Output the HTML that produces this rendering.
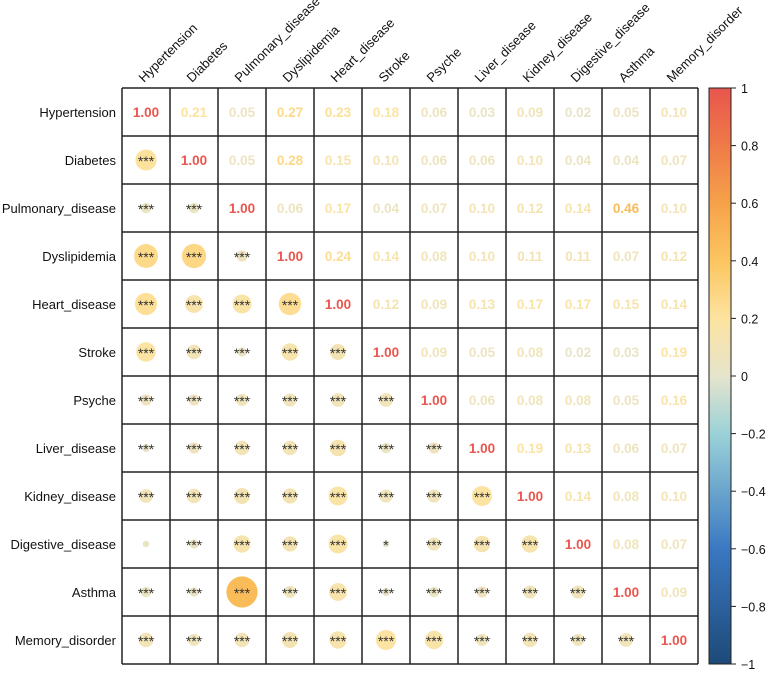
<!DOCTYPE html>
<html><head><meta charset="utf-8"><style>
body{margin:0;background:#fff;}
svg text{font-family:"Liberation Sans",Arial,sans-serif;}
</style></head><body>
<svg id="c" width="767" height="669" viewBox="0 0 767 669" xmlns="http://www.w3.org/2000/svg">
<defs><linearGradient id="cg" x1="0" y1="1" x2="0" y2="0">
<stop offset="0" stop-color="#1d4a78"/><stop offset="0.2" stop-color="#3a78c2"/><stop offset="0.4" stop-color="#9bd2d8"/><stop offset="0.5" stop-color="#e6e4cc"/><stop offset="0.6" stop-color="#fde3a0"/><stop offset="0.7" stop-color="#fcc560"/><stop offset="0.8" stop-color="#f6a24a"/><stop offset="0.9" stop-color="#ef7a48"/><stop offset="1" stop-color="#e8564e"/>
</linearGradient></defs>
</svg>
<script>
const labels=["Hypertension","Diabetes","Pulmonary_disease","Dyslipidemia","Heart_disease","Stroke","Psyche","Liver_disease","Kidney_disease","Digestive_disease","Asthma","Memory_disorder"];
const upper=[
[1,0.21,0.05,0.27,0.23,0.18,0.06,0.03,0.09,0.02,0.05,0.10],
[0,1,0.05,0.28,0.15,0.10,0.06,0.06,0.10,0.04,0.04,0.07],
[0,0,1,0.06,0.17,0.04,0.07,0.10,0.12,0.14,0.46,0.10],
[0,0,0,1,0.24,0.14,0.08,0.10,0.11,0.11,0.07,0.12],
[0,0,0,0,1,0.12,0.09,0.13,0.17,0.17,0.15,0.14],
[0,0,0,0,0,1,0.09,0.05,0.08,0.02,0.03,0.19],
[0,0,0,0,0,0,1,0.06,0.08,0.08,0.05,0.16],
[0,0,0,0,0,0,0,1,0.19,0.13,0.06,0.07],
[0,0,0,0,0,0,0,0,1,0.14,0.08,0.10],
[0,0,0,0,0,0,0,0,0,1,0.08,0.07],
[0,0,0,0,0,0,0,0,0,0,1,0.09],
[0,0,0,0,0,0,0,0,0,0,0,1]];
const sigOverride={"9-0":"","9-5":"*"};
const cbTicks=[1,0.8,0.6,0.4,0.2,0,-0.2,-0.4,-0.6,-0.8,-1];
const svg=document.getElementById('c');const NS="http://www.w3.org/2000/svg";
const X0=122,Y0=88,CW=48,CH=48;
const stops=[[-1,[29,74,120]],[-0.6,[58,120,194]],[-0.2,[155,210,216]],[0,[230,228,204]],[0.2,[253,227,160]],[0.4,[252,197,96]],[0.6,[246,162,74]],[0.8,[239,122,72]],[1,[232,86,78]]];
function col(v){for(let i=0;i<stops.length-1;i++){const[a,ca]=stops[i],[b,cb]=stops[i+1];if(v<=b){const t=(v-a)/(b-a);return 'rgb('+ca.map((c,k)=>Math.round(c+(cb[k]-c)*t)).join(',')+')';}}return 'rgb(232,86,78)';}
function mk(t,a,p){const e=document.createElementNS(NS,t);for(const k in a)e.setAttribute(k,a[k]);(p||svg).appendChild(e);return e;}
const xs=i=>X0+i*CW+CW/2, ys=i=>Y0+i*CH+CH/2;
const val=(r,c)=>r<=c?upper[r][c]:upper[c][r];
for(let r=0;r<12;r++)for(let c=0;c<12;c++){
 const v=val(r,c);
 if(c>=r){const t=mk('text',{x:xs(c),y:ys(r)+5,'text-anchor':'middle','font-size':13.5,'font-weight':'bold',fill:col(v)});t.textContent=v.toFixed(2);
  }
 else{const ci=mk('circle',{cx:xs(c),cy:ys(r),r:23*Math.sqrt(Math.abs(v)),fill:col(v)});
  
  const k=r+'-'+c;const s=(k in sigOverride)?sigOverride[k]:'***';
  if(s){const t=mk('text',{x:xs(c),y:ys(r)+6,'text-anchor':'middle','font-size':14,fill:'#333'});t.textContent=s;
   }}
}
for(let i=0;i<=12;i++){mk('line',{x1:X0+i*CW,y1:Y0,x2:X0+i*CW,y2:Y0+12*CH,stroke:'#222','stroke-width':1.5});mk('line',{x1:X0,y1:Y0+i*CH,x2:X0+12*CW,y2:Y0+i*CH,stroke:'#222','stroke-width':1.5});}
labels.forEach((l,i)=>{
 const t=mk('text',{x:X0-6,y:ys(i)+5,'text-anchor':'end','font-size':13,fill:'#111'});t.textContent=l;
 
 const u=mk('text',{x:0,y:0,'font-size':13,fill:'#111',transform:'translate('+(xs(i)-2)+','+(Y0-5)+') rotate(-45)'});u.textContent=l;
 
});
const CBX=709,CBW=22,H=12*CH;
const cb=mk('rect',{x:CBX,y:Y0,width:CBW,height:H,fill:'url(#cg)',stroke:'#222','stroke-width':1});

cbTicks.forEach(v=>{const y=Y0+(1-v)/2*H;mk('line',{x1:CBX+CBW,y1:y,x2:CBX+CBW+5,y2:y,stroke:'#222'});
 const t=mk('text',{x:CBX+CBW+10,y:y+5,'font-size':12.5,fill:'#111'});t.textContent=v<0?'\u2212'+(-v):String(v);
 });
</script>
</body></html>
